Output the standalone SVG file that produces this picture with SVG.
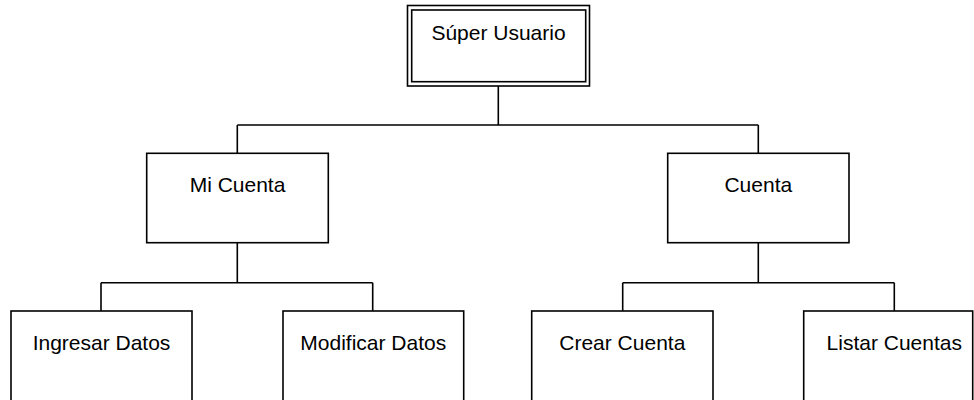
<svg xmlns="http://www.w3.org/2000/svg" width="974" height="400" viewBox="0 0 974 400">
<style>
.box{fill:#fff;stroke:#000;stroke-width:1.6}
.con{fill:none;stroke:#000;stroke-width:1.6}
text{font-family:"Liberation Sans",Arial,sans-serif;font-size:21px;fill:#000;text-anchor:middle}
</style>
<rect width="974" height="400" fill="#fff"/>
<g id="connectors">
<path class="con" d="M498.3 86V125M237.3 125H758.3M237.3 125V153.3M758.3 125V153.3"/>
<path class="con" d="M237.3 242.7V282.7M101 282.7H372.7M101 282.7V311M372.7 282.7V311"/>
<path class="con" d="M758.3 242.7V282.7M622.7 282.7H894.3M622.7 282.7V311M894.3 282.7V311"/>
</g>
<g id="super-usuario">
<rect class="box" x="407.5" y="5.5" width="182" height="80.5"/>
<rect class="box" x="411.7" y="10" width="174" height="71.7"/>
<text x="498.5" y="40">Súper Usuario</text>
</g>
<g id="mi-cuenta">
<rect class="box" x="146.7" y="153.3" width="181.6" height="89.4"/>
<text x="237.5" y="192.3">Mi Cuenta</text>
</g>
<g id="cuenta">
<rect class="box" x="667.7" y="153.3" width="181.3" height="89.4"/>
<text x="758.3" y="192.3">Cuenta</text>
</g>
<g id="ingresar-datos">
<rect class="box" x="11" y="311" width="181" height="91"/>
<text x="101.5" y="350">Ingresar Datos</text>
</g>
<g id="modificar-datos">
<rect class="box" x="283" y="311" width="180.7" height="91"/>
<text x="373.3" y="350">Modificar Datos</text>
</g>
<g id="crear-cuenta">
<rect class="box" x="531.7" y="311" width="181.3" height="91"/>
<text x="622.3" y="350">Crear Cuenta</text>
</g>
<g id="listar-cuentas">
<rect class="box" x="803.7" y="311" width="169" height="91"/>
<text x="894.3" y="350">Listar Cuentas</text>
</g>
</svg>
